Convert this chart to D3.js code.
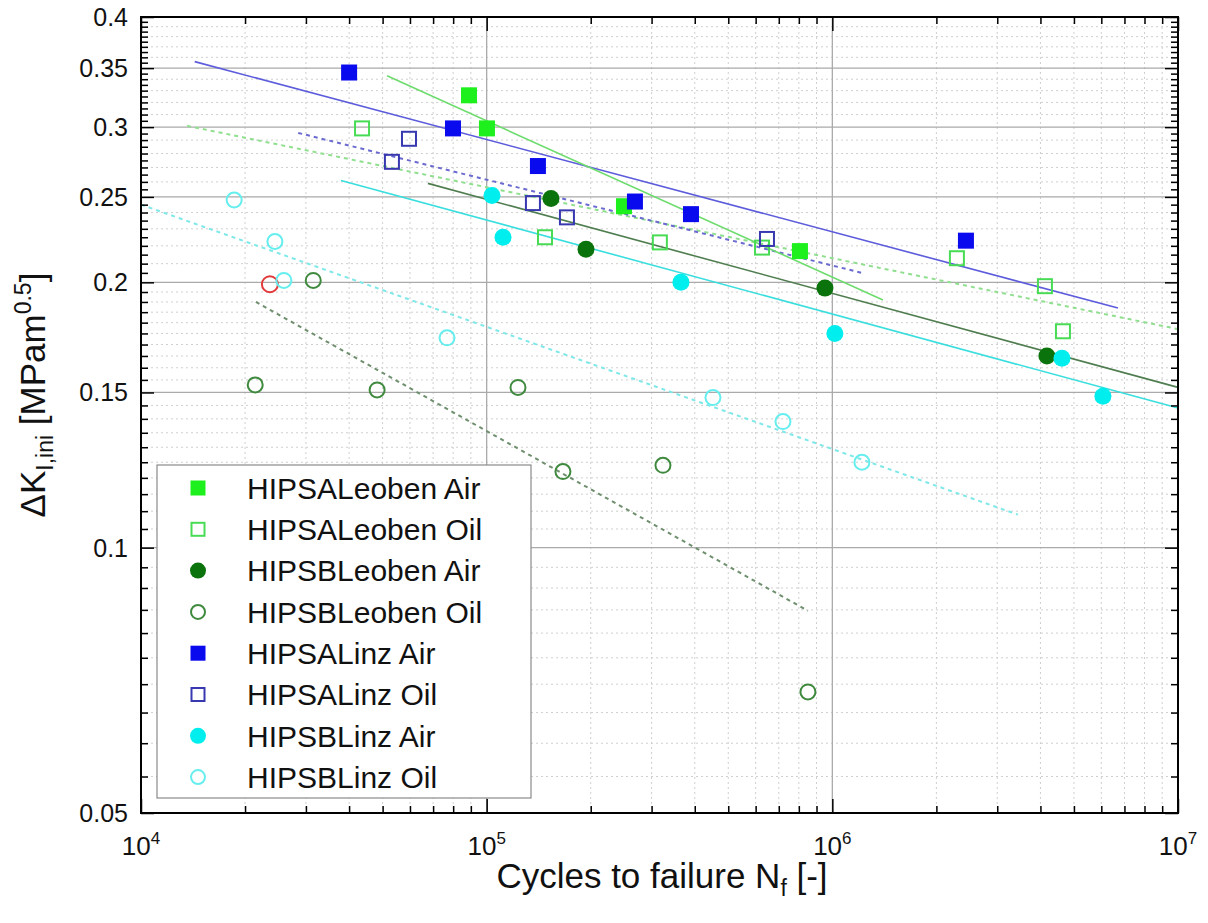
<!DOCTYPE html>
<html>
<head>
<meta charset="utf-8">
<script src="https://cdn.jsdelivr.net/npm/d3@7"></script>
<style>
body { margin: 0; background: #fff; }
svg { font-family: "Liberation Sans", Arial, sans-serif; }
</style>
</head>
<body>
<div id="chart"></div>
<script>
// measured points: [cycles to failure, dK_I,ini]
var hipsaLeobenAir = [[88900, 0.326], [100200, 0.299], [249600, 0.244], [806000, 0.217]];
var hipsaLeobenOil = [[43600, 0.299], [147500, 0.225], [317000, 0.222], [626000, 0.219], [2293000, 0.213], [4121000, 0.198], [4647000, 0.176]];
var hipsbLeobenAir = [[153500, 0.249], [193800, 0.218], [952000, 0.197], [4176000, 0.165]];
var hipsbLeobenOil = [[21400, 0.153], [31500, 0.201], [48200, 0.151], [123200, 0.152], [166200, 0.122], [323600, 0.124], [850000, 0.0686]];
var hipsaLinzAir = [[40000, 0.346], [79900, 0.299], [140700, 0.271], [268500, 0.247], [390000, 0.239], [2435000, 0.223]];
var hipsaLinzOil = [[53200, 0.274], [59600, 0.291], [136100, 0.246], [170700, 0.237], [647000, 0.224]];
var hipsbLinzAir = [[103600, 0.251], [111500, 0.225], [364800, 0.200], [1017000, 0.175], [4616000, 0.164], [6064000, 0.1485]];
var hipsbLinzOil = [[18600, 0.248], [24400, 0.2225], [25900, 0.201], [76800, 0.173], [451500, 0.148], [719700, 0.139], [1218000, 0.125]];
var extraPoint = [[23600, 0.199]];

// fit lines: start and end
var fitALeobenAir = [[51500, 0.343], [1401000, 0.191]];
var fitALeobenOil = [[13600, 0.301], [1e7, 0.177]];
var fitBLeobenAir = [[67600, 0.259], [1e7, 0.152]];
var fitBLeobenOil = [[21500, 0.190], [850000, 0.0848]];
var fitALinzAir = [[14300, 0.356], [6704000, 0.187]];
var fitALinzOil = [[28500, 0.2955], [1218000, 0.205]];
var fitBLinzAir = [[37900, 0.261], [1e7, 0.144]];
var fitBLinzOil = [[10000, 0.245], [3443000, 0.109]];

var xTickValues = [1e4, 1e5, 1e6, 1e7];
var xTickExp = ["4", "5", "6", "7"];
var yTickValues = [0.05, 0.1, 0.15, 0.2, 0.25, 0.3, 0.35, 0.4];
var yTickLabels = ["0.05", "0.1", "0.15", "0.2", "0.25", "0.3", "0.35", "0.4"];

var W = 1208, H = 923;
var pLeft = 141, pRight = 1178, pTop = 17, pBottom = 813;

var x = d3.scaleLog().domain([1e4, 1e7]).range([pLeft, pRight]);
var y = d3.scaleLog().domain([0.05, 0.4]).range([pBottom, pTop]);

var svg = d3.select("#chart").append("svg")
    .attr("width", W)
    .attr("height", H);

svg.append("rect").attr("width", W).attr("height", H).attr("fill", "#fff");

// minor positions
var xMinor = [];
[1e4, 1e5, 1e6].forEach(function(d) {
    for (var k = 2; k <= 9; k++) xMinor.push(k * d);
});
var yMinorGrid = [];
for (var v = 55; v < 200; v += 5) if (v % 50 != 0) yMinorGrid.push(v / 1000);
for (var v = 210; v < 400; v += 10) if (v % 50 != 0) yMinorGrid.push(v / 1000);
var yMinorTicks = [];
for (var v = 50; v <= 400; v += 5) if (v % 50 != 0) yMinorTicks.push(v / 1000);

// grid
var grid = svg.append("g");
grid.selectAll(".xm").data(xMinor).enter().append("line")
    .attr("x1", d => x(d)).attr("x2", d => x(d))
    .attr("y1", pTop).attr("y2", pBottom)
    .attr("stroke", "#cfcfcf").attr("stroke-width", 1).attr("stroke-dasharray", "2,3");
grid.selectAll(".ym").data(yMinorGrid).enter().append("line")
    .attr("x1", pLeft).attr("x2", pRight)
    .attr("y1", d => y(d)).attr("y2", d => y(d))
    .attr("stroke", "#cfcfcf").attr("stroke-width", 1).attr("stroke-dasharray", "2,3");
grid.selectAll(".xM").data([1e5, 1e6]).enter().append("line")
    .attr("x1", d => x(d)).attr("x2", d => x(d))
    .attr("y1", pTop).attr("y2", pBottom)
    .attr("stroke", "#aaa").attr("stroke-width", 1.3);
grid.selectAll(".yM").data(yTickValues.slice(1, -1)).enter().append("line")
    .attr("x1", pLeft).attr("x2", pRight)
    .attr("y1", d => y(d)).attr("y2", d => y(d))
    .attr("stroke", "#aaa").attr("stroke-width", 1.3);

// fit lines
var fits = [
    {data: fitALeobenOil, color: "#8fdf8f", dash: "4,4"},
    {data: fitALinzOil, color: "#6a6ad0", dash: "4,4"},
    {data: fitBLinzOil, color: "#80e8e8", dash: "4,4"},
    {data: fitBLeobenOil, color: "#6f8f6f", dash: "4,4"},
    {data: fitALinzAir, color: "#5c5cdc", dash: null},
    {data: fitALeobenAir, color: "#6ddc6d", dash: null},
    {data: fitBLeobenAir, color: "#4f7d4f", dash: null},
    {data: fitBLinzAir, color: "#3adede", dash: null}
];
var line = d3.line().x(d => x(d[0])).y(d => y(d[1]));
svg.append("g").selectAll("path").data(fits).enter().append("path")
    .attr("d", d => line(d.data))
    .attr("fill", "none")
    .attr("stroke", d => d.color)
    .attr("stroke-width", d => d.dash ? 2 : 1.6)
    .attr("stroke-dasharray", d => d.dash);

// series
var series = [
    {name: "HIPSALeoben Air", data: hipsaLeobenAir, shape: "square", filled: true, color: "#1ef01e"},
    {name: "HIPSALeoben Oil", data: hipsaLeobenOil, shape: "square", filled: false, color: "#48dc55"},
    {name: "HIPSBLeoben Air", data: hipsbLeobenAir, shape: "circle", filled: true, color: "#0b730b"},
    {name: "HIPSBLeoben Oil", data: hipsbLeobenOil, shape: "circle", filled: false, color: "#3f8a3f"},
    {name: "HIPSALinz Air", data: hipsaLinzAir, shape: "square", filled: true, color: "#0a0aee"},
    {name: "HIPSALinz Oil", data: hipsaLinzOil, shape: "square", filled: false, color: "#3838b0"},
    {name: "HIPSBLinz Air", data: hipsbLinzAir, shape: "circle", filled: true, color: "#00eeee"},
    {name: "HIPSBLinz Oil", data: hipsbLinzOil, shape: "circle", filled: false, color: "#66eeee"}
];

function drawMarker(g, s, cx, cy, size) {
    var sw = s.filled ? 0 : 2;
    if (s.shape == "square") {
        var side = s.filled ? size : size - 2;
        g.append("rect")
            .attr("x", cx - side / 2).attr("y", cy - side / 2)
            .attr("width", side).attr("height", side)
            .attr("fill", s.filled ? s.color : "none")
            .attr("stroke", s.color).attr("stroke-width", sw);
    } else {
        var r = s.filled ? size / 2 + 0.5 : size / 2 - 0.5;
        g.append("circle")
            .attr("cx", cx).attr("cy", cy).attr("r", r)
            .attr("fill", s.filled ? s.color : "none")
            .attr("stroke", s.color).attr("stroke-width", sw);
    }
}

var marks = svg.append("g");
extraPoint.forEach(function(d) {
    drawMarker(marks, {shape: "circle", filled: false, color: "#e23a3a"}, x(d[0]), y(d[1]), 17);
});
series.forEach(function(s) {
    s.data.forEach(function(d) {
        drawMarker(marks, s, x(d[0]), y(d[1]), 16);
    });
});

// axes with inward ticks
function tickStyle(g) {
    g.select(".domain").remove();
    g.selectAll("line").attr("stroke", "#000").attr("stroke-width", 1.5);
    g.selectAll("text").remove();
}
svg.append("g").attr("transform", "translate(0," + pBottom + ")")
    .call(d3.axisBottom(x).tickValues(xMinor).tickSize(-7)).call(tickStyle);
svg.append("g").attr("transform", "translate(0," + pBottom + ")")
    .call(d3.axisBottom(x).tickValues(xTickValues).tickSize(-14)).call(tickStyle);
svg.append("g").attr("transform", "translate(0," + pTop + ")")
    .call(d3.axisTop(x).tickValues(xMinor).tickSize(-7)).call(tickStyle);
svg.append("g").attr("transform", "translate(0," + pTop + ")")
    .call(d3.axisTop(x).tickValues(xTickValues).tickSize(-14)).call(tickStyle);
svg.append("g").attr("transform", "translate(" + pLeft + ",0)")
    .call(d3.axisLeft(y).tickValues(yMinorTicks).tickSize(-7)).call(tickStyle);
svg.append("g").attr("transform", "translate(" + pLeft + ",0)")
    .call(d3.axisLeft(y).tickValues(yTickValues).tickSize(-13)).call(tickStyle);
svg.append("g").attr("transform", "translate(" + pRight + ",0)")
    .call(d3.axisRight(y).tickValues(yMinorTicks).tickSize(-7)).call(tickStyle);
svg.append("g").attr("transform", "translate(" + pRight + ",0)")
    .call(d3.axisRight(y).tickValues(yTickValues).tickSize(-13)).call(tickStyle);

svg.append("rect")
    .attr("x", pLeft).attr("y", pTop)
    .attr("width", pRight - pLeft).attr("height", pBottom - pTop)
    .attr("fill", "none").attr("stroke", "#000").attr("stroke-width", 2);

// tick labels
yTickValues.forEach(function(v, i) {
    svg.append("text")
        .attr("x", 128).attr("y", y(v)).attr("dy", "0.36em")
        .attr("text-anchor", "end")
        .style("font-size", "25px")
        .attr("fill", "#111")
        .text(yTickLabels[i]);
});
xTickValues.forEach(function(v, i) {
    var t = svg.append("text")
        .attr("x", x(v)).attr("y", 855)
        .attr("text-anchor", "middle")
        .style("font-size", "26px")
        .attr("fill", "#111");
    t.append("tspan").text("10");
    t.append("tspan").attr("dy", -11).style("font-size", "17px").text(xTickExp[i]);
});

// axis titles
var xt = svg.append("text")
    .attr("x", 662).attr("y", 888)
    .attr("text-anchor", "middle")
    .style("font-size", "35px")
    .attr("fill", "#111");
xt.append("tspan").text("Cycles to failure N");
xt.append("tspan").attr("dy", 8).style("font-size", "23px").text("f");
xt.append("tspan").attr("dy", -8).text(" [-]");

var yt = svg.append("text")
    .attr("transform", "translate(45,395) rotate(-90)")
    .attr("text-anchor", "middle")
    .style("font-size", "35px")
    .attr("fill", "#111");
yt.append("tspan").text("\u0394K");
yt.append("tspan").attr("dy", 8).style("font-size", "23px").text("I,ini");
yt.append("tspan").attr("dy", -8).text(" [MPam");
yt.append("tspan").attr("dy", -14).style("font-size", "23px").text("0.5");
yt.append("tspan").attr("dy", 14).text("]");

// legend
var legend = svg.append("g");
legend.append("rect")
    .attr("x", 157).attr("y", 465)
    .attr("width", 374).attr("height", 333)
    .attr("fill", "#fff").attr("stroke", "#8a8a8a").attr("stroke-width", 1.2);
series.forEach(function(s, i) {
    var ry = 488 + i * 41.3;
    drawMarker(legend, s, 198, ry, 15);
    legend.append("text")
        .attr("x", 247).attr("y", ry).attr("dy", "0.36em")
        .style("font-size", "30px")
        .attr("fill", "#111")
        .text(s.name);
});
</script>
</body>
</html>
